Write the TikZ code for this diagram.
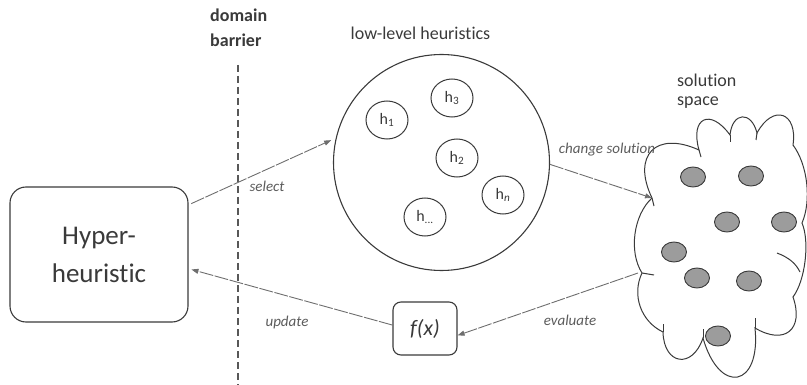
\documentclass[tikz,border=0pt]{standalone}
\usepackage{fontspec}
\setmainfont{Carlito}[RawFeature={-liga;-dlig;-clig}]
\usetikzlibrary{arrows.meta,shapes.geometric}
\definecolor{ink}{HTML}{3A3A3A}
\definecolor{labelgray}{HTML}{5C5C5C}
\definecolor{linkgray}{HTML}{6E6E6E}
\definecolor{dotgray}{HTML}{9C9C9C}
\begin{document}
\begin{tikzpicture}[x=1pt,y=-1pt,
  box/.style={draw=ink, line width=1.1pt, text=ink, inner sep=0pt},
  heur/.style={draw=ink, line width=1pt, ellipse, minimum width=42pt,
    minimum height=38pt, inner sep=0pt, text=ink,
    font=\fontsize{16}{16}\selectfont},
  dot/.style={draw=ink, line width=0.9pt, fill=dotgray, ellipse,
    minimum width=25pt, minimum height=20pt, inner sep=0pt},
  link/.style={draw=linkgray, line width=0.9pt, dash pattern=on 14pt off 1.5pt,
    -{Triangle[length=7pt,width=5pt]}},
  linklabel/.style={text=labelgray, font=\fontsize{15}{15}\selectfont\itshape},
  title/.style={text=ink, font=\fontsize{18}{19}\selectfont, inner sep=0pt},
  barrier/.style={draw=ink!85, line width=2.2pt, dash pattern=on 7pt off 4pt},
  cloudline/.style={draw=ink, line width=1pt}
]
\useasboundingbox (0,0) rectangle (807,385);

% hyper-heuristic controller
\node[box, rounded corners=16pt, minimum width=178pt, minimum height=135pt,
  align=center, font=\fontsize{27}{38}\selectfont] (hh) at (99,254.5)
  {Hyper-\\heuristic};

% domain barrier
\coordinate (bartop) at (238,65);
\coordinate (barbot) at (238,385);
\draw[barrier] (bartop) -- (barbot);
\node[title, font=\fontsize{18}{25}\selectfont\bfseries, align=left,
  anchor=north west] (bartitle) at (210,9) {domain\\barrier};

% pool of low-level heuristics
\node[circle, draw=ink, line width=1.1pt, minimum size=216pt, inner sep=0pt]
  (llh) at (441.5,162.5) {};
\node[title, anchor=base] (llhtitle) at (420.5,40) {low-level heuristics};
\node[heur] (h1) at (387,120) {h\textsubscript{1}};
\node[heur] (h3) at (452,98) {h\textsubscript{3}};
\node[heur] (h2) at (457,158) {h\textsubscript{2}};
\node[heur] (hn) at (503,195) {h\textsubscript{\itshape n}};
\node[heur] (hd) at (425,217) {h\textsubscript{...}};

% evaluation function
\node[box, rounded corners=8pt, minimum width=64pt, minimum height=53pt,
  font=\fontsize{22}{22}\selectfont\itshape] (fx) at (425,328.5) {f(x)};

% solution space cloud: a ring of puffs
\coordinate (c1) at (652,198);
\coordinate (c2) at (699,150);
\coordinate (c3) at (730,135);
\coordinate (c4) at (757,133);
\coordinate (c5) at (793,145);
\coordinate (c6) at (802,223);
\coordinate (c7) at (793,297);
\coordinate (c8) at (755,328);
\coordinate (c9) at (703,338);
\coordinate (c10) at (663,332);
\coordinate (c11) at (642,273);
\draw[cloudline]
  (c1) to[bend left=70, looseness=1.8] (c2)
       to[bend left=80, looseness=2.5] (c3)
       to[bend left=80, looseness=2.2] (c4)
       to[bend left=80, looseness=2.25] (c5)
       to[bend left=30, looseness=0.8] (c6)
       to[bend left=30, looseness=0.7] (c7)
       to[bend left=70, looseness=1.8] (c8)
       to[bend left=85, looseness=2.9] (c9)
       to[bend left=80, looseness=2.1] (c10)
       to[bend left=45, looseness=1] (c11)
       to[bend left=40, looseness=0.85] (c1);
% short inner strokes where the puffs overlap
\draw[cloudline] (c1) -- ++(2,8);
\draw[cloudline] (c2) -- ++(2,7);
\draw[cloudline] (c3) -- ++(0,7);
\draw[cloudline] (c4) -- ++(-1,7);
\draw[cloudline] (c11) -- ++(12,2);
\draw[cloudline] (c10) -- ++(0,-8);
\draw[cloudline] (c9) -- ++(0,-9);
\draw[cloudline] (c8) -- ++(0,-10);
\draw[cloudline] (777,253) .. controls (790,258) and (796,264) .. (800,272);
\node[title, align=left, anchor=north west] (sstitle) at (677,74)
  {solution\\space};

% candidate solutions
\node[dot] (s1) at (693,177) {};
\node[dot] (s2) at (751,176) {};
\node[dot] (s3) at (727,222) {};
\node[dot] (s4) at (784,222) {};
\node[dot] (s5) at (674,252) {};
\node[dot] (s6) at (697,278) {};
\node[dot] (s7) at (749,281) {};
\node[dot] (s8) at (718,336) {};

% control flow
\draw[link, shorten >=5pt, shorten <=3pt] (hh.29) -- (llh.167);
\node[linklabel] (lsel) at (267,186) {select};
\draw[link] (llh.-1) -- (c1);
\node[linklabel] (lchg) at (607,150) {change solution};
\draw[link] (c11) ++(-4,0) coordinate (evalstart) (evalstart) -- (fx.-12);
\node[linklabel] (leval) at (570,320) {evaluate};
\draw[link, shorten >=3pt] (fx.174) -- (hh.-9);
\node[linklabel] (lupd) at (287,323) {update};
\end{tikzpicture}
\end{document}
